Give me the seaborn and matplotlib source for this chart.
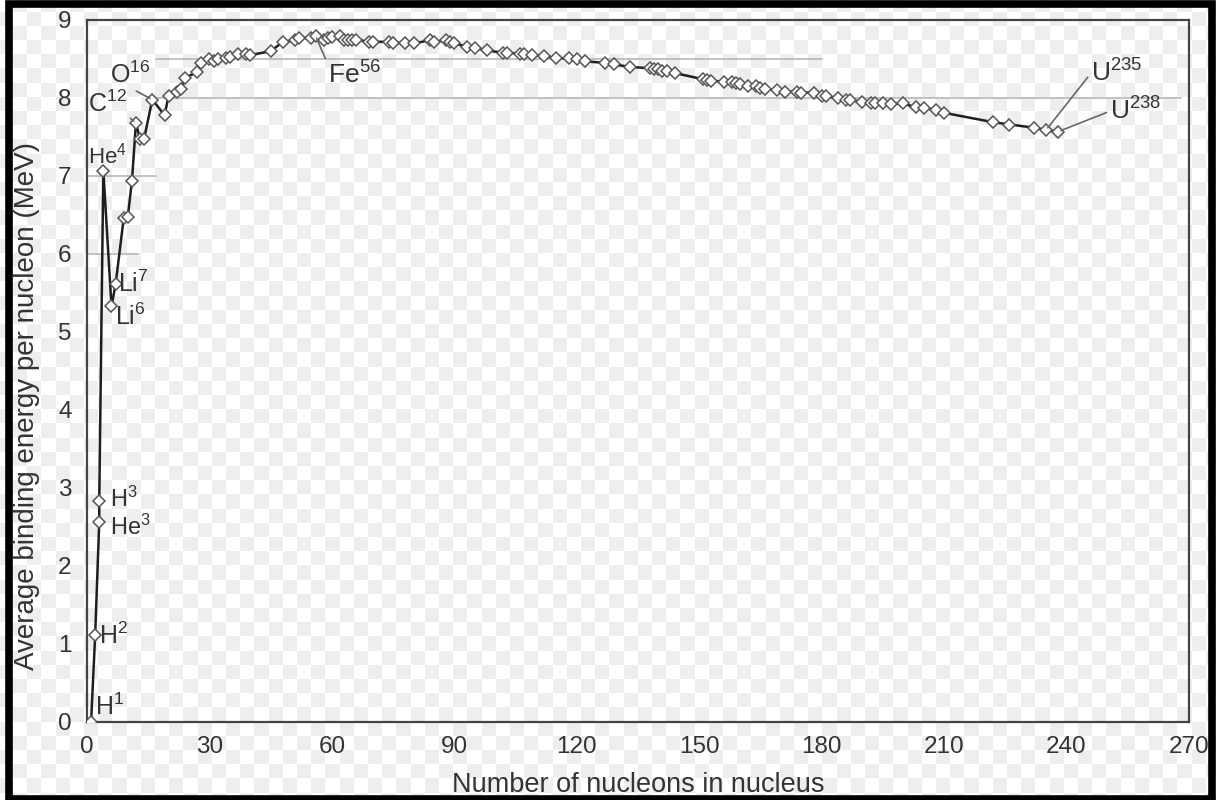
import numpy as np
import pandas as pd
import seaborn as sns
import matplotlib.pyplot as plt
from matplotlib.patches import Rectangle

# mass number A and average binding energy per nucleon (MeV)
mass_number = [1, 2, 3, 3, 4, 6, 7, 9, 10, 11, 12, 13, 14, 16, 19, 20,
               22, 23, 24, 27, 28, 30, 31, 32, 34, 35, 37, 39, 40, 45,
               48, 51, 52, 55, 56, 58, 59, 60, 62, 63, 64, 65, 66, 69,
               70, 74, 75, 78, 80, 84, 85, 88, 89, 90, 93, 95, 98, 102,
               103, 106, 107, 109, 112, 115, 118, 120, 122, 127, 129, 133,
               138, 139, 140, 141, 142, 144, 151, 152, 153, 156, 158, 159,
               160, 162, 164, 165, 166, 169, 171, 174, 175, 178, 180, 181,
               184, 186, 187, 190, 192, 193, 195, 197, 200, 203, 205, 208,
               210, 222, 226, 232, 235, 238]
binding_energy = [0.0, 1.11, 2.57, 2.83, 7.07, 5.33, 5.61, 6.46, 6.48, 6.93,
                  7.68, 7.47, 7.48, 7.98, 7.78, 8.03,
                  8.08, 8.11, 8.26, 8.33, 8.45, 8.50, 8.48, 8.50, 8.51, 8.52,
                  8.57, 8.56, 8.55, 8.60,
                  8.72, 8.74, 8.77, 8.77, 8.80, 8.74, 8.77, 8.78, 8.79, 8.75,
                  8.74, 8.75, 8.75, 8.72,
                  8.72, 8.72, 8.70, 8.71, 8.70, 8.74, 8.72, 8.74, 8.72, 8.70,
                  8.66, 8.64, 8.61, 8.58,
                  8.58, 8.57, 8.56, 8.55, 8.54, 8.51, 8.51, 8.50, 8.47, 8.45,
                  8.43, 8.40,
                  8.38, 8.37, 8.37, 8.35, 8.34, 8.32, 8.24, 8.23, 8.22, 8.21,
                  8.20, 8.19,
                  8.18, 8.16, 8.15, 8.13, 8.12, 8.10, 8.08, 8.08, 8.07, 8.07,
                  8.03, 8.02,
                  8.00, 7.98, 7.97, 7.95, 7.94, 7.93, 7.93, 7.92, 7.93, 7.88,
                  7.87, 7.85,
                  7.81, 7.69, 7.66, 7.62, 7.59, 7.57]

# labelled isotopes: text, A, binding energy, text position, leader line anchor on text
label_text = ['H$^{1}$', 'H$^{2}$', 'H$^{3}$', 'He$^{3}$', 'He$^{4}$', 'Li$^{7}$',
              'Li$^{6}$', 'C$^{12}$', 'O$^{16}$', 'Fe$^{56}$', 'U$^{235}$', 'U$^{238}$']
label_A = [1, 2, 3, 3, 4, 7, 6, 12, 16, 56, 235, 238]
label_be = [0.0, 1.11, 2.83, 2.57, 7.07, 5.61, 5.33, 7.68, 7.98, 8.80, 7.59, 7.57]
label_xy = [(2.0, 0.2), (3.0, 1.1), (5.6, 2.86), (5.6, 2.5), (0.3, 7.26), (7.6, 5.62),
            (6.9, 5.2), (0.3, 7.93), (5.6, 8.3), (59.0, 8.29), (246.0, 8.32), (250.6, 7.83)]
label_size = [18, 18, 17, 17, 16, 18, 18, 18, 18, 19, 19, 19]
leader_anchor = [None, None, None, None, None, None, None,
                 (0.95, 0.1), (0.5, 0.0), (0.0, 0.9), (0.0, 0.5), (0.0, 0.5)]

# partial horizontal guide lines: y, x start, x end
guide_y = [6, 7, 8, 8.5]
guide_x0 = [0, 0, 15, 17]
guide_x1 = [12.5, 17, 268, 180]

df = pd.DataFrame({'A': mass_number, 'BE': binding_energy})

sns.set_theme(style='white')
plt.rcParams['font.family'] = ['Liberation Sans', 'DejaVu Sans']
plt.rcParams['mathtext.default'] = 'regular'

fig = plt.figure(figsize=(12.16, 8), dpi=100)

# transparency checkerboard behind everything
h, w = 800, 1216
yy, xx = np.mgrid[0:h, 0:w]
checker = ((np.floor((xx - 12.6) / 14.2) + np.floor((yy - 11.1) / 14.2)) % 2).astype(float)
shade = 1.0 - checker * 0.065
fig.figimage(np.dstack([shade, shade, shade]), xo=0, yo=0, origin='upper', zorder=-10)
fig.patch.set_alpha(0)

ax = fig.add_axes([87 / 1216, 78 / 800, 1102 / 1216, 702 / 800])
ax.set_facecolor('none')
ax.set_zorder(5)

for gy, g0, g1 in zip(guide_y, guide_x0, guide_x1):
    ax.plot([g0, g1], [gy, gy], color='#bdbdbd', lw=1.3, zorder=1)

sns.lineplot(data=df, x='A', y='BE', sort=False, estimator=None, ax=ax,
             color='#1e1e1e', lw=1.8,
             marker='D', markersize=5.8, markerfacecolor='white',
             markeredgecolor='#555555', markeredgewidth=1.1, zorder=3)

for txt, a, be, (tx, ty), fs, anc in zip(label_text, label_A, label_be, label_xy,
                                         label_size, leader_anchor):
    if anc is None:
        ax.text(tx, ty, txt, fontsize=fs, color='#333333', ha='left', va='center', zorder=4)
    else:
        ax.annotate(txt, xy=(a, be), xytext=(tx, ty), fontsize=fs, color='#333333',
                    ha='left', va='center', zorder=4,
                    arrowprops=dict(arrowstyle='-', color='#666666', lw=1.2,
                                    relpos=anc, shrinkA=0, shrinkB=2))

ax.set_xlim(0, 270)
ax.set_ylim(0, 9)
ax.set_xticks(np.arange(0, 271, 30))
ax.set_yticks(np.arange(0, 10, 1))
ax.tick_params(axis='both', direction='in', colors='#bbbbbb', labelcolor='#333333',
               labelsize=17.5, width=1.2)
ax.tick_params(axis='x', length=12, pad=10)
ax.tick_params(axis='y', length=15, pad=11)
for s in ax.spines.values():
    s.set_color('#444444')
    s.set_linewidth(1.6)

ax.set_xlabel('Number of nucleons in nucleus', fontsize=19.5, color='#333333')
ax.set_ylabel('Average binding energy per nucleon (MeV)', fontsize=20, color='#333333')
ax.xaxis.set_label_coords(0.5, -0.071)
ax.yaxis.set_label_coords(-0.043, 0.45)

# outer image frame (bottom edge sits on the canvas edge, so only a thin strip shows)
fig.add_artist(Rectangle((0.007, 0.001), 0.9895, 0.994, transform=fig.transFigure,
                         fill=False, ec='black', lw=5.5, zorder=10))

fig.savefig('out.png', dpi=100)
